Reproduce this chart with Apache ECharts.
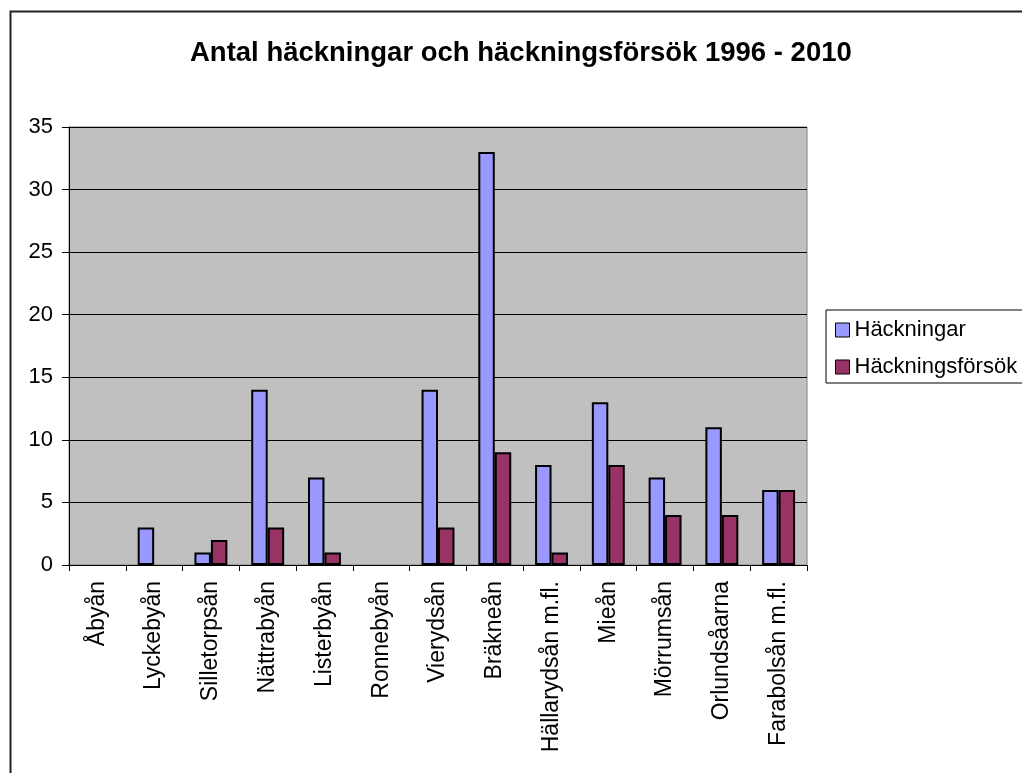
<!DOCTYPE html>
<html>
<head>
<meta charset="utf-8">
<script src="https://cdn.jsdelivr.net/npm/echarts@6/dist/echarts.min.js"></script>
<style>
  html, body { margin: 0; padding: 0; background: #fff; }
  #chart { width: 1022px; height: 773px; }
</style>
</head>
<body>
<div id="chart"></div>
<script>
// Rivers / areas along the x axis
const categories = ['Åbyån', 'Lyckebyån', 'Silletorpsån', 'Nättrabyån', 'Listerbyån', 'Ronnebyån',
  'Vierydsån', 'Bräkneån', 'Hällarydsån m.fl.', 'Mieån', 'Mörrumsån', 'Orlundsåarna', 'Farabolsån m.fl.'];
// Number of breedings per area
const hackningar = [0, 3, 1, 14, 7, 0, 14, 33, 8, 13, 7, 11, 6];
// Number of breeding attempts per area
const hackningsforsok = [0, 0, 2, 3, 1, 0, 3, 9, 1, 8, 4, 4, 6];
// Value axis ticks
const yTicks = [0, 5, 10, 15, 20, 25, 30, 35];

const FONT = '"Liberation Sans", Arial, sans-serif';

// Zero-height bars get no outline so nothing is drawn for them
const asBarData = arr => arr.map(v => v === 0 ? { value: v, itemStyle: { borderWidth: 0 } } : v);

const chart = echarts.init(document.getElementById('chart'), null, { renderer: 'canvas' });

chart.setOption({
  animation: false,
  backgroundColor: '#ffffff',
  graphic: [{
    type: 'rect',
    left: 8, top: 9,
    shape: { width: 1200, height: 1000 },
    style: { fill: 'none', stroke: '#222', lineWidth: 2 },
    silent: true, z: 100
  }],
  title: {
    text: 'Antal häckningar och häckningsförsök 1996 - 2010',
    left: 190, top: 39,
    padding: 0,
    textStyle: { fontFamily: FONT, fontSize: 27.5, fontWeight: 'bold', color: '#000' }
  },
  legend: {
    orient: 'vertical',
    left: 826, top: 310,
    padding: [9, 30, 5, 9],
    itemGap: 15,
    itemWidth: 14, itemHeight: 14,
    borderColor: '#000', borderWidth: 1,
    backgroundColor: '#fff',
    icon: 'rect',
    itemStyle: { borderColor: '#000', borderWidth: 1 },
    textStyle: { fontFamily: FONT, fontSize: 22, color: '#000' },
    data: ['Häckningar', 'Häckningsförsök']
  },
  grid: {
    left: 69, right: 215, top: 127, bottom: 208,
    show: true, backgroundColor: '#C0C0C0', borderColor: '#808080', borderWidth: 1
  },
  xAxis: {
    type: 'category',
    data: categories,
    axisLine: { lineStyle: { color: '#000', width: 1 } },
    axisTick: { show: true, alignWithLabel: false, length: 6, lineStyle: { color: '#000' } },
    axisLabel: { rotate: 90, margin: 16, interval: 0, fontFamily: FONT, fontSize: 23, color: '#000' },
    splitLine: { show: false }
  },
  yAxis: {
    type: 'value',
    min: yTicks[0], max: yTicks[yTicks.length - 1], interval: 5,
    axisLine: { show: true, lineStyle: { color: '#000', width: 1 } },
    axisTick: { show: true, length: 7, lineStyle: { color: '#000' } },
    axisLabel: { margin: 16, fontFamily: FONT, fontSize: 22, color: '#000' },
    splitLine: { show: true, lineStyle: { color: '#000', width: 1 } }
  },
  series: [
    {
      name: 'Häckningar', type: 'bar', data: asBarData(hackningar),
      barGap: '0%', barCategoryGap: '42%',
      itemStyle: { color: '#9999FF', borderColor: '#000', borderWidth: 2 }
    },
    {
      name: 'Häckningsförsök', type: 'bar', data: asBarData(hackningsforsok),
      itemStyle: { color: '#993366', borderColor: '#000', borderWidth: 2 }
    }
  ]
});
</script>
</body>
</html>
